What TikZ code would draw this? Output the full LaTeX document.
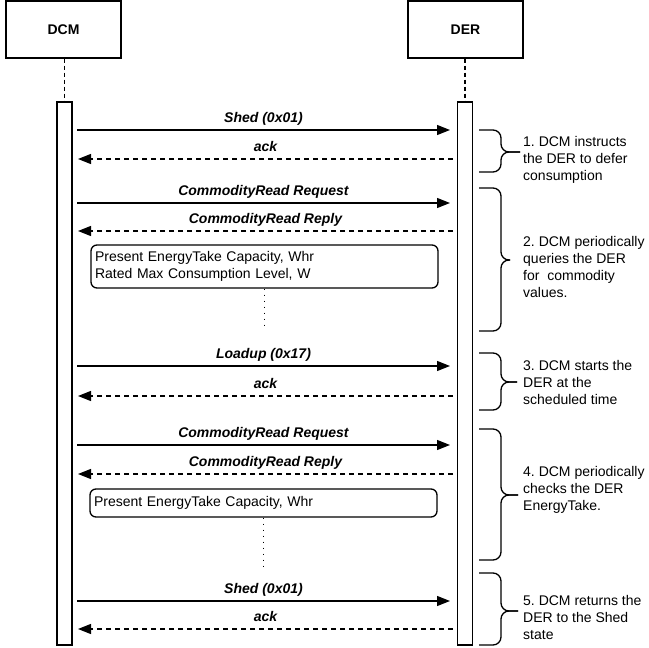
\documentclass[tikz,border=0pt]{standalone}
\usepackage{fontspec}
\setmainfont{Liberation Sans}
\usetikzlibrary{positioning, arrows.meta}
\newcommand{\diagfont}{\fontsize{14}{17}\selectfont\frenchspacing}

\begin{document}
\begin{tikzpicture}[x=1pt, y=-1pt]
        % reference pixel grid, y grows downward
        \tikzstyle{head}=[draw, line width=1.3pt, minimum width=115pt, minimum height=57pt, font=\diagfont\bfseries]
        \tikzstyle{bar}=[draw, line width=1.3pt, minimum width=15pt, minimum height=543pt, inner sep=0pt]
        \tikzstyle{life}=[line width=1.3pt, dash pattern=on 4pt off 3pt]
        \tikzstyle{call}=[line width=1.3pt, -{Triangle[length=13pt, width=10pt]}]
        \tikzstyle{reply}=[call, dash pattern=on 5pt off 4pt]
        \tikzstyle{msglabel}=[midway, anchor=base, yshift=7.5pt, font=\diagfont\bfseries\itshape]
        \tikzstyle{note}=[draw, line width=1.3pt, rounded corners=6pt, align=left, text width=339pt, inner xsep=4pt, font=\diagfont]
        \tikzstyle{gap}=[line width=1.3pt, dash pattern=on 1.5pt off 4.5pt]
        \tikzstyle{curly}=[line width=1.3pt, rounded corners=8pt]
        \tikzstyle{remark}=[anchor=west, align=left, inner sep=0pt, font=\diagfont]

        \useasboundingbox (0,0) rectangle (649,648);

        \node[head] (dcm) at (63.5,29.5) {DCM};
        \node[head] (der) at (465.5,29.5) {DER};

        \node[bar] (dcmbar) at (64.5,373.5) {};
        \node[bar] (derbar) at (465,373.5) {};

        \draw[life] (dcmbar.north |- dcm.south) -- (dcmbar.north);
        \draw[life] (derbar.north |- der.south) -- (derbar.north);

        % requests DCM -> DER
        \foreach \y/\txt [count=\i] in {130/{Shed (0x01)}, 203/{CommodityRead Request}, 366/{Loadup (0x17)}, 445/{CommodityRead Request}, 601/{Shed (0x01)}}
        {
          \coordinate (call\i s) at (77,\y);
          \coordinate (call\i e) at (450,\y);
          \draw[call] (call\i s) -- node[msglabel] {\txt} (call\i e);
        }

        % answers DER -> DCM
        \foreach \y/\txt [count=\i] in {159/ack, 231/{CommodityRead Reply}, 396/ack, 474/{CommodityRead Reply}, 629/ack}
        {
          \coordinate (back\i s) at (453,\y);
          \coordinate (back\i e) at (78,\y);
          \draw[reply] (back\i s) -- node[msglabel] {\txt} (back\i e);
        }

        \node[note, minimum height=43pt] (note1) at (264.5,266.5) {Present EnergyTake Capacity, Whr\\Rated Max Consumption Level, W};
        \node[note, minimum height=28pt] (note2) at (263.5,503) {Present EnergyTake Capacity, Whr};

        \coordinate (wait1) at (note1.south |- 0,327);
        \coordinate (wait2) at (note2.south |- 0,570);
        \draw[gap] (note1.south) -- (wait1);
        \draw[gap] (note2.south) -- (wait2);

        % curly brackets beside the DER bar
        \foreach \top/\mid/\bot/\tip in {130/152/172/520, 188/260/331/510, 353/382/410/517, 429/495/560/518, 573/611/645/518}
        {
          \draw[curly] (479,\top) -- (501,\top) -- (501,\mid) -- (\tip,\mid);
          \draw[curly] (479,\bot) -- (501,\bot) -- (501,\mid) -- (\tip,\mid);
        }

        \node[remark] (step1) at (523,159.5) {1. DCM instructs\\the DER to defer\\consumption};
        \node[remark] (step2) at (523,267) {2. DCM periodically\\queries the DER\\for\ \ commodity\\values.};
        \node[remark] (step3) at (523,382) {3. DCM starts the\\DER at the\\scheduled time};
        \node[remark] (step4) at (523,490) {4. DCM periodically\\checks the DER\\EnergyTake.};
        \node[remark] (step5) at (523,617.5) {5. DCM returns the\\DER to the Shed\\state};
\end{tikzpicture}
\end{document}
